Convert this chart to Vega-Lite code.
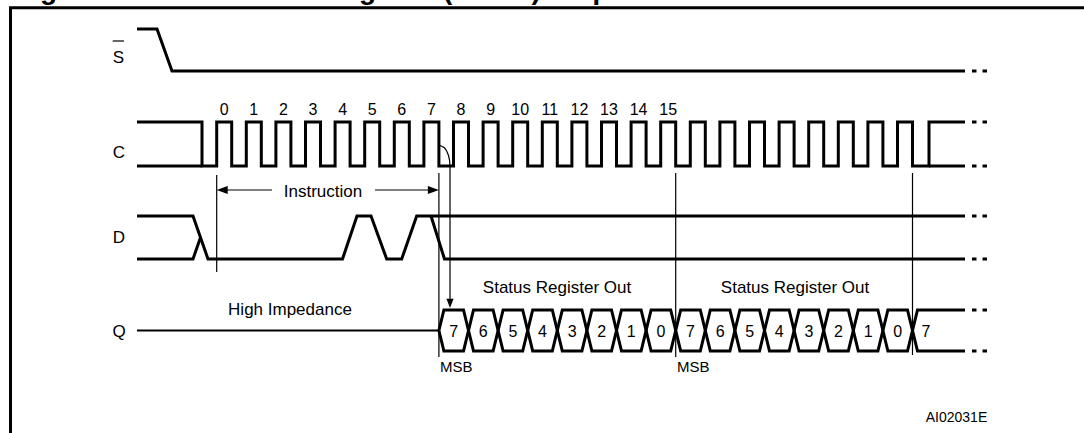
{
  "$schema": "https://vega.github.io/schema/vega-lite/v6.json",
  "width": 1084,
  "height": 433,
  "autosize": "none",
  "padding": 0,
  "background": "white",
  "config": {"view": {"stroke": null}},
  "datasets": {
    "lines": [
      {"k":"sig","s":"frame","x":10.5,"y":433},{"k":"sig","s":"frame","x":10.5,"y":7.8},{"k":"sig","s":"frame","x":1084,"y":7.8},
      {"k":"sig","s":"S","x":137,"y":29},{"k":"sig","s":"S","x":157,"y":29},{"k":"sig","s":"S","x":172,"y":71},{"k":"sig","s":"S","x":965,"y":71},
      {"k":"sig","s":"C","x":137,"y":122},{"k":"sig","s":"C","x":202,"y":122},{"k":"sig","s":"C","x":202,"y":166},{"k":"sig","s":"C","x":216.7,"y":166},
      {"k":"sig","s":"C","x":216.7,"y":122},{"k":"sig","s":"C","x":231.7,"y":122},{"k":"sig","s":"C","x":231.7,"y":166},{"k":"sig","s":"C","x":246.3,"y":166},
      {"k":"sig","s":"C","x":246.3,"y":122},{"k":"sig","s":"C","x":261.3,"y":122},{"k":"sig","s":"C","x":261.3,"y":166},{"k":"sig","s":"C","x":275.9,"y":166},
      {"k":"sig","s":"C","x":275.9,"y":122},{"k":"sig","s":"C","x":290.9,"y":122},{"k":"sig","s":"C","x":290.9,"y":166},{"k":"sig","s":"C","x":305.5,"y":166},
      {"k":"sig","s":"C","x":305.5,"y":122},{"k":"sig","s":"C","x":320.5,"y":122},{"k":"sig","s":"C","x":320.5,"y":166},{"k":"sig","s":"C","x":335.1,"y":166},
      {"k":"sig","s":"C","x":335.1,"y":122},{"k":"sig","s":"C","x":350.1,"y":122},{"k":"sig","s":"C","x":350.1,"y":166},{"k":"sig","s":"C","x":364.7,"y":166},
      {"k":"sig","s":"C","x":364.7,"y":122},{"k":"sig","s":"C","x":379.7,"y":122},{"k":"sig","s":"C","x":379.7,"y":166},{"k":"sig","s":"C","x":394.3,"y":166},
      {"k":"sig","s":"C","x":394.3,"y":122},{"k":"sig","s":"C","x":409.3,"y":122},{"k":"sig","s":"C","x":409.3,"y":166},{"k":"sig","s":"C","x":423.9,"y":166},
      {"k":"sig","s":"C","x":423.9,"y":122},{"k":"sig","s":"C","x":438.9,"y":122},{"k":"sig","s":"C","x":438.9,"y":166},{"k":"sig","s":"C","x":453.5,"y":166},
      {"k":"sig","s":"C","x":453.5,"y":122},{"k":"sig","s":"C","x":468.5,"y":122},{"k":"sig","s":"C","x":468.5,"y":166},{"k":"sig","s":"C","x":483.1,"y":166},
      {"k":"sig","s":"C","x":483.1,"y":122},{"k":"sig","s":"C","x":498.1,"y":122},{"k":"sig","s":"C","x":498.1,"y":166},{"k":"sig","s":"C","x":512.7,"y":166},
      {"k":"sig","s":"C","x":512.7,"y":122},{"k":"sig","s":"C","x":527.7,"y":122},{"k":"sig","s":"C","x":527.7,"y":166},{"k":"sig","s":"C","x":542.3,"y":166},
      {"k":"sig","s":"C","x":542.3,"y":122},{"k":"sig","s":"C","x":557.3,"y":122},{"k":"sig","s":"C","x":557.3,"y":166},{"k":"sig","s":"C","x":571.9,"y":166},
      {"k":"sig","s":"C","x":571.9,"y":122},{"k":"sig","s":"C","x":586.9,"y":122},{"k":"sig","s":"C","x":586.9,"y":166},{"k":"sig","s":"C","x":601.5,"y":166},
      {"k":"sig","s":"C","x":601.5,"y":122},{"k":"sig","s":"C","x":616.5,"y":122},{"k":"sig","s":"C","x":616.5,"y":166},{"k":"sig","s":"C","x":631.1,"y":166},
      {"k":"sig","s":"C","x":631.1,"y":122},{"k":"sig","s":"C","x":646.1,"y":122},{"k":"sig","s":"C","x":646.1,"y":166},{"k":"sig","s":"C","x":660.7,"y":166},
      {"k":"sig","s":"C","x":660.7,"y":122},{"k":"sig","s":"C","x":675.7,"y":122},{"k":"sig","s":"C","x":675.7,"y":166},{"k":"sig","s":"C","x":690.3,"y":166},
      {"k":"sig","s":"C","x":690.3,"y":122},{"k":"sig","s":"C","x":705.3,"y":122},{"k":"sig","s":"C","x":705.3,"y":166},{"k":"sig","s":"C","x":719.9,"y":166},
      {"k":"sig","s":"C","x":719.9,"y":122},{"k":"sig","s":"C","x":734.9,"y":122},{"k":"sig","s":"C","x":734.9,"y":166},{"k":"sig","s":"C","x":749.5,"y":166},
      {"k":"sig","s":"C","x":749.5,"y":122},{"k":"sig","s":"C","x":764.5,"y":122},{"k":"sig","s":"C","x":764.5,"y":166},{"k":"sig","s":"C","x":779.1,"y":166},
      {"k":"sig","s":"C","x":779.1,"y":122},{"k":"sig","s":"C","x":794.1,"y":122},{"k":"sig","s":"C","x":794.1,"y":166},{"k":"sig","s":"C","x":808.7,"y":166},
      {"k":"sig","s":"C","x":808.7,"y":122},{"k":"sig","s":"C","x":823.7,"y":122},{"k":"sig","s":"C","x":823.7,"y":166},{"k":"sig","s":"C","x":838.3,"y":166},
      {"k":"sig","s":"C","x":838.3,"y":122},{"k":"sig","s":"C","x":853.3,"y":122},{"k":"sig","s":"C","x":853.3,"y":166},{"k":"sig","s":"C","x":867.9,"y":166},
      {"k":"sig","s":"C","x":867.9,"y":122},{"k":"sig","s":"C","x":882.9,"y":122},{"k":"sig","s":"C","x":882.9,"y":166},{"k":"sig","s":"C","x":897.5,"y":166},
      {"k":"sig","s":"C","x":897.5,"y":122},{"k":"sig","s":"C","x":912.5,"y":122},{"k":"sig","s":"C","x":912.5,"y":166},{"k":"sig","s":"C","x":929,"y":166},
      {"k":"sig","s":"C","x":929,"y":122},{"k":"sig","s":"C","x":965,"y":122},
      {"k":"sig","s":"C2","x":137,"y":166},{"k":"sig","s":"C2","x":202,"y":166},
      {"k":"sig","s":"C3","x":929,"y":166},{"k":"sig","s":"C3","x":965,"y":166},
      {"k":"sig","s":"D1","x":137,"y":216},{"k":"sig","s":"D1","x":193,"y":216},{"k":"sig","s":"D1","x":208,"y":259},{"k":"sig","s":"D1","x":342.5,"y":259},
      {"k":"sig","s":"D1","x":357,"y":216},{"k":"sig","s":"D1","x":371,"y":216},{"k":"sig","s":"D1","x":386.7,"y":259},{"k":"sig","s":"D1","x":401.7,"y":259},
      {"k":"sig","s":"D1","x":416.7,"y":216},{"k":"sig","s":"D1","x":965,"y":216},
      {"k":"sig","s":"D2","x":137,"y":259},{"k":"sig","s":"D2","x":193,"y":259},{"k":"sig","s":"D2","x":200.5,"y":237.5},
      {"k":"sig","s":"D3","x":431,"y":216},{"k":"sig","s":"D3","x":444.5,"y":259},{"k":"sig","s":"D3","x":965,"y":259},
      {"k":"sig","s":"P1","x":438.9,"y":330.5},{"k":"sig","s":"P1","x":443.9,"y":310},
      {"k":"sig","s":"P1","x":463.5,"y":310},{"k":"sig","s":"P1","x":473.5,"y":351},
      {"k":"sig","s":"P1","x":493.1,"y":351},{"k":"sig","s":"P1","x":503.1,"y":310},
      {"k":"sig","s":"P1","x":522.7,"y":310},{"k":"sig","s":"P1","x":532.7,"y":351},
      {"k":"sig","s":"P1","x":552.3,"y":351},{"k":"sig","s":"P1","x":562.3,"y":310},
      {"k":"sig","s":"P1","x":581.9,"y":310},{"k":"sig","s":"P1","x":591.9,"y":351},
      {"k":"sig","s":"P1","x":611.5,"y":351},{"k":"sig","s":"P1","x":621.5,"y":310},
      {"k":"sig","s":"P1","x":641.1,"y":310},{"k":"sig","s":"P1","x":651.1,"y":351},
      {"k":"sig","s":"P1","x":670.7,"y":351},{"k":"sig","s":"P1","x":680.7,"y":310},
      {"k":"sig","s":"P1","x":700.3,"y":310},{"k":"sig","s":"P1","x":710.3,"y":351},
      {"k":"sig","s":"P1","x":729.9,"y":351},{"k":"sig","s":"P1","x":739.9,"y":310},
      {"k":"sig","s":"P1","x":759.5,"y":310},{"k":"sig","s":"P1","x":769.5,"y":351},
      {"k":"sig","s":"P1","x":789.1,"y":351},{"k":"sig","s":"P1","x":799.1,"y":310},
      {"k":"sig","s":"P1","x":818.7,"y":310},{"k":"sig","s":"P1","x":828.7,"y":351},
      {"k":"sig","s":"P1","x":848.3,"y":351},{"k":"sig","s":"P1","x":858.3,"y":310},
      {"k":"sig","s":"P1","x":877.9,"y":310},{"k":"sig","s":"P1","x":887.9,"y":351},
      {"k":"sig","s":"P1","x":907.5,"y":351},{"k":"sig","s":"P1","x":917.5,"y":310},
      {"k":"sig","s":"P1","x":965,"y":310},
      {"k":"sig","s":"P2","x":438.9,"y":330.5},{"k":"sig","s":"P2","x":443.9,"y":351},
      {"k":"sig","s":"P2","x":463.5,"y":351},{"k":"sig","s":"P2","x":473.5,"y":310},
      {"k":"sig","s":"P2","x":493.1,"y":310},{"k":"sig","s":"P2","x":503.1,"y":351},
      {"k":"sig","s":"P2","x":522.7,"y":351},{"k":"sig","s":"P2","x":532.7,"y":310},
      {"k":"sig","s":"P2","x":552.3,"y":310},{"k":"sig","s":"P2","x":562.3,"y":351},
      {"k":"sig","s":"P2","x":581.9,"y":351},{"k":"sig","s":"P2","x":591.9,"y":310},
      {"k":"sig","s":"P2","x":611.5,"y":310},{"k":"sig","s":"P2","x":621.5,"y":351},
      {"k":"sig","s":"P2","x":641.1,"y":351},{"k":"sig","s":"P2","x":651.1,"y":310},
      {"k":"sig","s":"P2","x":670.7,"y":310},{"k":"sig","s":"P2","x":680.7,"y":351},
      {"k":"sig","s":"P2","x":700.3,"y":351},{"k":"sig","s":"P2","x":710.3,"y":310},
      {"k":"sig","s":"P2","x":729.9,"y":310},{"k":"sig","s":"P2","x":739.9,"y":351},
      {"k":"sig","s":"P2","x":759.5,"y":351},{"k":"sig","s":"P2","x":769.5,"y":310},
      {"k":"sig","s":"P2","x":789.1,"y":310},{"k":"sig","s":"P2","x":799.1,"y":351},
      {"k":"sig","s":"P2","x":818.7,"y":351},{"k":"sig","s":"P2","x":828.7,"y":310},
      {"k":"sig","s":"P2","x":848.3,"y":310},{"k":"sig","s":"P2","x":858.3,"y":351},
      {"k":"sig","s":"P2","x":877.9,"y":351},{"k":"sig","s":"P2","x":887.9,"y":310},
      {"k":"sig","s":"P2","x":907.5,"y":310},{"k":"sig","s":"P2","x":917.5,"y":351},
      {"k":"sig","s":"P2","x":965,"y":351},
      {"k":"sig","s":"d1","x":972,"y":71},{"k":"sig","s":"d1","x":976.5,"y":71},
      {"k":"sig","s":"d2","x":982.5,"y":71},{"k":"sig","s":"d2","x":987,"y":71},
      {"k":"sig","s":"d3","x":972,"y":122},{"k":"sig","s":"d3","x":976.5,"y":122},
      {"k":"sig","s":"d4","x":982.5,"y":122},{"k":"sig","s":"d4","x":987,"y":122},
      {"k":"sig","s":"d5","x":972,"y":166},{"k":"sig","s":"d5","x":976.5,"y":166},
      {"k":"sig","s":"d6","x":982.5,"y":166},{"k":"sig","s":"d6","x":987,"y":166},
      {"k":"sig","s":"d7","x":972,"y":216},{"k":"sig","s":"d7","x":976.5,"y":216},
      {"k":"sig","s":"d8","x":982.5,"y":216},{"k":"sig","s":"d8","x":987,"y":216},
      {"k":"sig","s":"d9","x":972,"y":259},{"k":"sig","s":"d9","x":976.5,"y":259},
      {"k":"sig","s":"d10","x":982.5,"y":259},{"k":"sig","s":"d10","x":987,"y":259},
      {"k":"sig","s":"d11","x":972,"y":310},{"k":"sig","s":"d11","x":976.5,"y":310},
      {"k":"sig","s":"d12","x":982.5,"y":310},{"k":"sig","s":"d12","x":987,"y":310},
      {"k":"sig","s":"d13","x":972,"y":351},{"k":"sig","s":"d13","x":976.5,"y":351},
      {"k":"sig","s":"d14","x":982.5,"y":351},{"k":"sig","s":"d14","x":987,"y":351},
      {"k":"hiz","s":"Q","x":137,"y":330.5},{"k":"hiz","s":"Q","x":438.9,"y":330.5},
      {"k":"guide","s":"V1","x":216.7,"y":175},{"k":"guide","s":"V1","x":216.7,"y":272},
      {"k":"guide","s":"V2","x":438.9,"y":173},{"k":"guide","s":"V2","x":438.9,"y":357},
      {"k":"guide","s":"V3","x":675.7,"y":173},{"k":"guide","s":"V3","x":675.7,"y":357},
      {"k":"guide","s":"V4","x":912.5,"y":173},{"k":"guide","s":"V4","x":912.5,"y":355},
      {"k":"guide","s":"I1","x":222,"y":190},{"k":"guide","s":"I1","x":272,"y":190},
      {"k":"guide","s":"I2","x":375,"y":190},{"k":"guide","s":"I2","x":433,"y":190},
      {"k":"guide","s":"arc","x":439,"y":145},{"k":"guide","s":"arc","x":444.5,"y":147.8},{"k":"guide","s":"arc","x":446.8,"y":151.2},
      {"k":"guide","s":"arc","x":448.5,"y":155.5},{"k":"guide","s":"arc","x":449.6,"y":160.6},{"k":"guide","s":"arc","x":450,"y":166},
      {"k":"guide","s":"arc","x":450,"y":300},
      {"k":"guide","s":"bar","x":112.7,"y":41},{"k":"guide","s":"bar","x":124,"y":41}
    ],
    "heads": [
      {"dir":"left","x":216.7,"y":190},
      {"dir":"right","x":438.9,"y":190},
      {"dir":"down","x":450,"y":308}
    ],
    "texts": [
      {"r":"sig","t":"S","x":118.3,"y":63.3},
      {"r":"sig","t":"C","x":119,"y":158.3},
      {"r":"sig","t":"D","x":119,"y":243},
      {"r":"sig","t":"Q","x":119,"y":337},
      {"r":"note","t":"Instruction","x":323,"y":197},
      {"r":"note","t":"High Impedance","x":290,"y":315},
      {"r":"note","t":"Status Register Out","x":557,"y":293},
      {"r":"note","t":"Status Register Out","x":795,"y":293},
      {"r":"msb","t":"MSB","x":440,"y":372},
      {"r":"msb","t":"MSB","x":677,"y":372},
      {"r":"num","t":"0","x":224.2,"y":115},{"r":"num","t":"1","x":253.8,"y":115},{"r":"num","t":"2","x":283.4,"y":115},
      {"r":"num","t":"3","x":313,"y":115},{"r":"num","t":"4","x":342.6,"y":115},{"r":"num","t":"5","x":372.2,"y":115},
      {"r":"num","t":"6","x":401.8,"y":115},{"r":"num","t":"7","x":431.4,"y":115},{"r":"num","t":"8","x":461,"y":115},
      {"r":"num","t":"9","x":490.6,"y":115},{"r":"num","t":"10","x":520.2,"y":115},{"r":"num","t":"11","x":549.8,"y":115},
      {"r":"num","t":"12","x":579.4,"y":115},{"r":"num","t":"13","x":609,"y":115},{"r":"num","t":"14","x":638.6,"y":115},
      {"r":"num","t":"15","x":668.2,"y":115},
      {"r":"num","t":"7","x":453.7,"y":337},{"r":"num","t":"6","x":483.3,"y":337},{"r":"num","t":"5","x":512.9,"y":337},
      {"r":"num","t":"4","x":542.5,"y":337},{"r":"num","t":"3","x":572.1,"y":337},{"r":"num","t":"2","x":601.7,"y":337},
      {"r":"num","t":"1","x":631.3,"y":337},{"r":"num","t":"0","x":660.9,"y":337},{"r":"num","t":"7","x":690.5,"y":337},
      {"r":"num","t":"6","x":720.1,"y":337},{"r":"num","t":"5","x":749.7,"y":337},{"r":"num","t":"4","x":779.3,"y":337},
      {"r":"num","t":"3","x":808.9,"y":337},{"r":"num","t":"2","x":838.5,"y":337},{"r":"num","t":"1","x":868.1,"y":337},
      {"r":"num","t":"0","x":897.7,"y":337},{"r":"num","t":"7","x":926,"y":337},
      {"r":"code","t":"AI02031E","x":956.5,"y":421.5},
      {"r":"title","t":"Figure 11. Read Status Register (RDSR) Sequence","x":15,"y":-1}
    ]
  },
  "layer": [
    {
      "data": {"name": "lines"},
      "transform": [{"filter": "datum.k == 'sig'"}],
      "mark": {"type": "line", "color": "black", "strokeWidth": 3, "strokeCap": "butt", "strokeJoin": "miter"},
      "encoding": {
        "x": {"field": "x", "type": "quantitative", "scale": {"domain": [0, 1084], "nice": false, "zero": false}, "axis": null},
        "y": {"field": "y", "type": "quantitative", "scale": {"domain": [0, 433], "nice": false, "zero": false, "reverse": true}, "axis": null},
        "detail": {"field": "s"},
        "order": {"value": null}
      }
    },
    {
      "data": {"name": "lines"},
      "transform": [{"filter": "datum.k == 'hiz'"}],
      "mark": {"type": "line", "color": "black", "strokeWidth": 2, "strokeCap": "butt"},
      "encoding": {
        "x": {"field": "x", "type": "quantitative"},
        "y": {"field": "y", "type": "quantitative"},
        "detail": {"field": "s"},
        "order": {"value": null}
      }
    },
    {
      "data": {"name": "lines"},
      "transform": [{"filter": "datum.k == 'guide'"}],
      "mark": {"type": "line", "color": "black", "strokeWidth": 1.2, "strokeCap": "butt"},
      "encoding": {
        "x": {"field": "x", "type": "quantitative"},
        "y": {"field": "y", "type": "quantitative"},
        "detail": {"field": "s"},
        "order": {"value": null}
      }
    },
    {
      "data": {"name": "heads"},
      "mark": {"type": "point", "filled": true, "color": "black", "size": 121, "opacity": 1, "strokeWidth": 0},
      "encoding": {
        "x": {"field": "x", "type": "quantitative"},
        "y": {"field": "y", "type": "quantitative"},
        "shape": {"field": "dir", "type": "nominal", "legend": null,
          "scale": {"domain": ["left", "right", "down"], "range": ["M0,0L2,-0.73L2,0.73Z", "M0,0L-2,-0.73L-2,0.73Z", "M0,0L-0.65,-1.7L0.65,-1.7Z"]}}
      }
    },
    {
      "data": {"name": "texts"},
      "transform": [{"filter": "datum.r == 'sig' || datum.r == 'note'"}],
      "mark": {"type": "text", "font": "Liberation Sans", "fontSize": 17, "align": "center", "baseline": "alphabetic", "color": "black"},
      "encoding": {
        "x": {"field": "x", "type": "quantitative"},
        "y": {"field": "y", "type": "quantitative"},
        "text": {"field": "t"}
      }
    },
    {
      "data": {"name": "texts"},
      "transform": [{"filter": "datum.r == 'msb'"}],
      "mark": {"type": "text", "font": "Liberation Sans", "fontSize": 15, "align": "left", "baseline": "alphabetic", "color": "black"},
      "encoding": {
        "x": {"field": "x", "type": "quantitative"},
        "y": {"field": "y", "type": "quantitative"},
        "text": {"field": "t"}
      }
    },
    {
      "data": {"name": "texts"},
      "transform": [{"filter": "datum.r == 'num'"}],
      "mark": {"type": "text", "font": "Liberation Sans", "fontSize": 16, "align": "center", "baseline": "alphabetic", "color": "black"},
      "encoding": {
        "x": {"field": "x", "type": "quantitative"},
        "y": {"field": "y", "type": "quantitative"},
        "text": {"field": "t"}
      }
    },
    {
      "data": {"name": "texts"},
      "transform": [{"filter": "datum.r == 'code'"}],
      "mark": {"type": "text", "font": "Liberation Sans", "fontSize": 14, "align": "center", "baseline": "alphabetic", "color": "black"},
      "encoding": {
        "x": {"field": "x", "type": "quantitative"},
        "y": {"field": "y", "type": "quantitative"},
        "text": {"field": "t"}
      }
    },
    {
      "data": {"name": "texts"},
      "transform": [{"filter": "datum.r == 'title'"}],
      "mark": {"type": "text", "font": "Liberation Sans", "fontSize": 28, "fontWeight": "bold", "align": "left", "baseline": "alphabetic", "color": "black"},
      "encoding": {
        "x": {"field": "x", "type": "quantitative"},
        "y": {"field": "y", "type": "quantitative"},
        "text": {"field": "t"}
      }
    }
  ]
}
